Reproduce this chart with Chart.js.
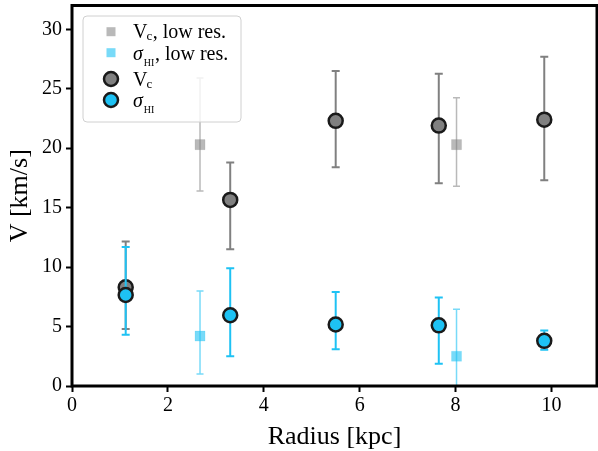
<!DOCTYPE html>
<html><head><meta charset="utf-8">
<script src="https://cdn.jsdelivr.net/npm/chart.js@4.4.0/dist/chart.umd.min.js"></script>
<style>html,body{margin:0;padding:0;background:#fff;}</style>
</head><body>
<canvas id="c" width="598" height="451" style="display:block;width:598px;height:451px"></canvas>
<script>
// ---- data ----
const radiusLow = [2.67, 8.02];
const vcLow   = [20.3, 20.3];
const vcLowLo = [16.4, 16.8];
const vcLowHi = [25.9, 24.25];
const sigLow   = [4.2, 2.5];
const sigLowLo = [1.0, -1.5];
const sigLowHi = [8.0, 6.45];

const radius = [1.12, 3.3, 5.5, 7.65, 9.85];
const vc   = [8.3, 15.65, 22.3, 21.9, 22.4];
const vcLo = [4.8, 11.5, 18.4, 17.05, 17.3];
const vcHi = [12.15, 18.8, 26.5, 26.25, 27.7];
const sig   = [7.65, 5.95, 5.17, 5.1, 3.8];
const sigLo = [4.3, 2.5, 3.1, 1.87, 3.05];
const sigHi = [11.7, 9.9, 7.9, 7.45, 4.67];

const xTicks = [0, 2, 4, 6, 8, 10];
const yTicks = [0, 5, 10, 15, 20, 25, 30];
const xTitle = 'Radius [kpc]';
const yTitle = 'V [km/s]';
const legendMain = ['V', 'σ', 'V', 'σ'];
const legendSub  = ['c', 'HI', 'c', 'HI'];
const legendRest = [', low res.', ', low res.', '', ''];

// ---- styles ----
const GREY = '#808080';
const BLUE = '#1ec2f4';
const GREY_A = 'rgba(128,128,128,0.55)';
const BLUE_A = 'rgba(30,194,244,0.6)';
const SERIF = "'Liberation Serif', 'DejaVu Serif', serif";

function pts(xs, ys) { return xs.map((x, i) => ({ x: x, y: ys[i] })); }

const errorBars = {
  id: 'errorBars',
  beforeDatasetDraw(chart, args) {
    const ds = chart.data.datasets[args.index];
    if (!ds.errLo) return;
    const { ctx, scales: { x, y }, chartArea: a } = chart;
    ctx.save();
    ctx.beginPath();
    ctx.rect(a.left, a.top, a.right - a.left, a.bottom - a.top);
    ctx.clip();
    ctx.strokeStyle = ds.errColor;
    ctx.lineWidth = ds.errWidth;
    ds.data.forEach((p, i) => {
      const px = x.getPixelForValue(p.x);
      const y1 = y.getPixelForValue(ds.errLo[i]);
      const y2 = y.getPixelForValue(ds.errHi[i]);
      const c = ds.capHalf;
      ctx.beginPath();
      ctx.moveTo(px, y1); ctx.lineTo(px, y2);
      ctx.moveTo(px - c, y1); ctx.lineTo(px + c, y1);
      ctx.moveTo(px - c, y2); ctx.lineTo(px + c, y2);
      ctx.stroke();
    });
    ctx.restore();
  }
};

const frameAndLegend = {
  id: 'frameAndLegend',
  afterDraw(chart) {
    const { ctx, chartArea: a } = chart;
    ctx.save();
    ctx.strokeStyle = '#000';
    ctx.lineWidth = 3;
    ctx.strokeRect(a.left, a.top, a.right - a.left, a.bottom - a.top);

    // legend box
    const bx = 83, by = 16, bw = 158, bh = 106, r = 4;
    ctx.beginPath();
    ctx.moveTo(bx + r, by);
    ctx.arcTo(bx + bw, by, bx + bw, by + bh, r);
    ctx.arcTo(bx + bw, by + bh, bx, by + bh, r);
    ctx.arcTo(bx, by + bh, bx, by, r);
    ctx.arcTo(bx, by, bx + bw, by, r);
    ctx.closePath();
    ctx.fillStyle = 'rgba(255,255,255,0.8)';
    ctx.fill();
    ctx.strokeStyle = '#d0d0d0';
    ctx.lineWidth = 1;
    ctx.stroke();

    const mx = 111;
    const markerY = [31.7, 52.7, 79, 100];
    const baseY = [37.5, 59.5, 86, 106.5];
    const dss = chart.data.datasets;
    for (let i = 0; i < 4; i++) {
      const ds = dss[i];
      const my = markerY[i];
      if (ds.pointStyle === 'rect') {
        ctx.fillStyle = ds.backgroundColor;
        ctx.fillRect(mx - 4.5, my - 4.5, 9, 9);
      } else {
        ctx.beginPath();
        ctx.arc(mx, my, 7, 0, Math.PI * 2);
        ctx.fillStyle = ds.backgroundColor;
        ctx.fill();
        ctx.lineWidth = 2.5;
        ctx.strokeStyle = ds.borderColor;
        ctx.stroke();
      }
      ctx.fillStyle = '#000';
      ctx.textBaseline = 'alphabetic';
      ctx.textAlign = 'left';
      let tx = 133;
      const isSigma = legendMain[i] === 'σ';
      ctx.font = (isSigma ? 'italic ' : '') + '20px ' + SERIF;
      ctx.fillText(legendMain[i], tx, baseY[i]);
      tx += ctx.measureText(legendMain[i]).width + (isSigma ? 1 : -1);
      if (legendSub[i] === 'HI') {
        ctx.font = '10px ' + SERIF;
        ctx.fillText(legendSub[i], tx, baseY[i] + 6);
      } else {
        ctx.font = '13px ' + SERIF;
        ctx.fillText(legendSub[i], tx, baseY[i] + 2);
      }
      tx += ctx.measureText(legendSub[i]).width + 0.5;
      ctx.font = '20px ' + SERIF;
      ctx.fillText(legendRest[i], tx, baseY[i]);
    }
    ctx.restore();
  }
};

function noPad(s) { s.paddingTop = 0; s.paddingBottom = 0; s.paddingLeft = 0; s.paddingRight = 0; }

Chart.defaults.font.family = SERIF;
Chart.defaults.color = '#000';

new Chart(document.getElementById('c'), {
  type: 'scatter',
  data: {
    datasets: [
      {
        label: 'Vc, low res.', data: pts(radiusLow, vcLow),
        pointStyle: 'rect', pointRadius: 7.1, pointHoverRadius: 7.1,
        backgroundColor: GREY_A, borderColor: 'rgba(128,128,128,0.3)', borderWidth: 0.5,
        errLo: vcLowLo, errHi: vcLowHi, errColor: 'rgba(128,128,128,0.55)', errWidth: 1.5, capHalf: 3.5,
        order: 4
      },
      {
        label: 'σHI, low res.', data: pts(radiusLow, sigLow),
        pointStyle: 'rect', pointRadius: 7.1, pointHoverRadius: 7.1,
        backgroundColor: BLUE_A, borderColor: 'rgba(30,194,244,0.3)', borderWidth: 0.5,
        errLo: sigLowLo, errHi: sigLowHi, errColor: 'rgba(30,194,244,0.6)', errWidth: 1.5, capHalf: 3.5,
        order: 3
      },
      {
        label: 'Vc', data: pts(radius, vc),
        pointStyle: 'circle', pointRadius: 7, pointHoverRadius: 7,
        backgroundColor: GREY, borderColor: '#1a1a1a', borderWidth: 2.5,
        errLo: vcLo, errHi: vcHi, errColor: GREY, errWidth: 2, capHalf: 4,
        order: 2
      },
      {
        label: 'σHI', data: pts(radius, sig),
        pointStyle: 'circle', pointRadius: 7, pointHoverRadius: 7,
        backgroundColor: BLUE, borderColor: '#1a1a1a', borderWidth: 2.5,
        errLo: sigLo, errHi: sigHi, errColor: BLUE, errWidth: 2, capHalf: 4,
        order: 1
      }
    ]
  },
  options: {
    responsive: false,
    animation: false,
    devicePixelRatio: 1,
    layout: { autoPadding: false, padding: { top: 5.5, right: 1, left: 0, bottom: 0 } },
    plugins: { legend: { display: false }, tooltip: { enabled: false } },
    scales: {
      x: {
        type: 'linear', min: 0, max: 10.95,
        afterBuildTicks: s => { s.ticks = xTicks.map(v => ({ value: v })); },
        afterFit: s => { s.height = 65; noPad(s); },
        grid: { drawOnChartArea: false, drawTicks: true, tickLength: 6, tickColor: '#000', tickWidth: 2 },
        border: { display: false },
        ticks: { font: { size: 20 }, padding: 2, color: '#000', maxRotation: 0 },
        title: { display: true, text: xTitle, font: { size: 26, lineHeight: 1 }, padding: { top: 0, bottom: 1 }, color: '#000' }
      },
      y: {
        type: 'linear', min: 0, max: 32,
        afterBuildTicks: s => { s.ticks = yTicks.map(v => ({ value: v })); },
        afterFit: s => { s.width = 72; noPad(s); },
        grid: { drawOnChartArea: false, drawTicks: true, tickLength: 6, tickColor: '#000', tickWidth: 2 },
        border: { display: false },
        ticks: { font: { size: 20 }, padding: 4, color: '#000' },
        title: { display: true, text: yTitle, font: { size: 26, lineHeight: 1.2 }, padding: { top: 5, bottom: 0 }, color: '#000' }
      }
    }
  },
  plugins: [errorBars, frameAndLegend]
});
</script>
</body></html>
